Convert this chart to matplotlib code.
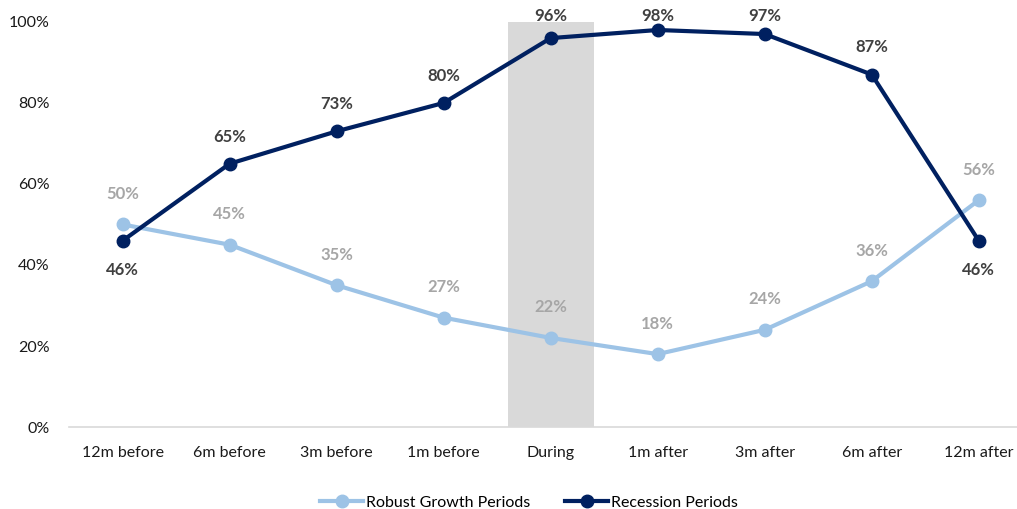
import matplotlib.pyplot as plt
from matplotlib.ticker import PercentFormatter

plt.rcParams['font.family'] = ['Lato', 'DejaVu Sans']

# data
periods = ['12m before', '6m before', '3m before', '1m before', 'During',
           '1m after', '3m after', '6m after', '12m after']
robust = [0.50, 0.45, 0.35, 0.27, 0.22, 0.18, 0.24, 0.36, 0.56]
recession = [0.46, 0.65, 0.73, 0.80, 0.96, 0.98, 0.97, 0.87, 0.46]
recession_below = [True, False, False, False, False, False, False, False, True]
shade_idx = 4

light = '#9DC3E6'
navy = '#002060'

fig = plt.figure(figsize=(10.17, 5.09), dpi=100)
ax = fig.add_axes([0.068, 0.161, 0.947, 0.796])

x = range(len(periods))
ax.bar(shade_idx, 1.0, width=0.8, color='#D9D9D9', zorder=0)

ax.plot(x, robust, color=light, lw=3, marker='o', ms=9, label='Robust Growth Periods', zorder=3)
ax.plot(x, recession, color=navy, lw=3, marker='o', ms=9, label='Recession Periods', zorder=4)

for i, v in enumerate(robust):
    ax.annotate(f'{v:.0%}', (i, v), xytext=(0, 22), textcoords='offset points',
                ha='center', va='center', fontsize=12, fontweight='bold', color='#A6A6A6')
for i, v in enumerate(recession):
    if recession_below[i]:
        ty = v - 0.072
    else:
        ty = min(v + 0.067, 1.015)  # labels near the top stay inside the plot
    ax.text(i, ty, f'{v:.0%}', ha='center', va='center', fontsize=12,
            fontweight='bold', color='#404040', zorder=5)

ax.set_xlim(-0.5, len(periods) - 0.5)
ax.set_ylim(0, 1.0)
ax.set_yticks([0, 0.2, 0.4, 0.6, 0.8, 1.0])
ax.yaxis.set_major_formatter(PercentFormatter(1.0, decimals=0))
ax.set_xticks(list(x))
ax.set_xticklabels(periods)
ax.tick_params(axis='both', length=0, labelsize=11.5, colors='#1a1a1a')
ax.tick_params(axis='x', pad=14)
ax.tick_params(axis='y', pad=14)

for side in ['top', 'right', 'left']:
    ax.spines[side].set_visible(False)
ax.spines['bottom'].set_color('#D9D9D9')
ax.spines['bottom'].set_linewidth(1.2)

fig.legend(loc='lower center', bbox_to_anchor=(0.52, -0.03), ncol=2, frameon=False,
           fontsize=11.5, handlelength=2.7, columnspacing=2.2, handletextpad=0.15)

fig.savefig('out.png', dpi=100)
